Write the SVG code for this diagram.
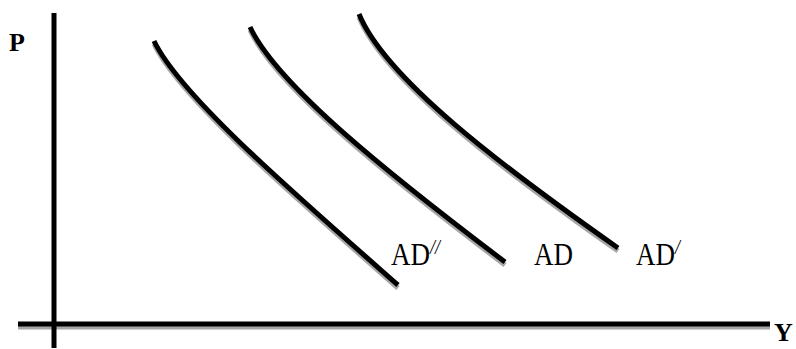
<svg xmlns="http://www.w3.org/2000/svg" width="796" height="349" viewBox="0 0 796 349">
  <style>
    .ln { fill: none; stroke: #000; stroke-width: 5; }
    .sh { fill: none; stroke: #a6a6a6; stroke-width: 5; }
    .ax { font-family: "Liberation Serif", "Times New Roman", serif; font-weight: bold; font-size: 26px; fill: #000; }
    .lb { font-family: "Liberation Serif", "Times New Roman", serif; font-size: 27px; fill: #000; }
    .pr { font-style: italic; font-size: 18px; }
  </style>
  <rect width="796" height="349" fill="#fff"/>
  <g id="shadows" transform="translate(0,3)">
    <line class="sh" x1="18" y1="324" x2="770" y2="324"/>
    <path class="sh" d="M154,41 C180,95 290,190 398,285"/>
    <path class="sh" d="M250,27 C277,85 390,175 505,262"/>
    <path class="sh" d="M359,14 C385,78 500,165 618,248"/>
  </g>
  <g id="axes">
    <line class="ln" x1="54" y1="13" x2="54" y2="348"/>
    <line class="ln" x1="18" y1="324" x2="770" y2="324"/>
    <text class="ax" x="9" y="51">P</text>
    <text class="ax" x="774" y="341" font-size="25">Y</text>
  </g>
  <g id="connectors">
    <path id="ad2" class="ln" d="M154,41 C180,95 290,190 398,285"/>
    <path id="ad" class="ln" d="M250,27 C277,85 390,175 505,262"/>
    <path id="ad1" class="ln" d="M359,14 C385,78 500,165 618,248"/>
  </g>
  <g id="label-ad2" transform="translate(391,265) scale(1,1.2)">
    <text class="lb" x="0" y="0">AD<tspan class="pr" dy="-9">//</tspan></text>
  </g>
  <g id="label-ad" transform="translate(534,265) scale(1,1.2)">
    <text class="lb" x="0" y="0">AD</text>
  </g>
  <g id="label-ad1" transform="translate(636,265) scale(1,1.2)">
    <text class="lb" x="0" y="0">AD<tspan class="pr" dy="-9">/</tspan></text>
  </g>
</svg>
